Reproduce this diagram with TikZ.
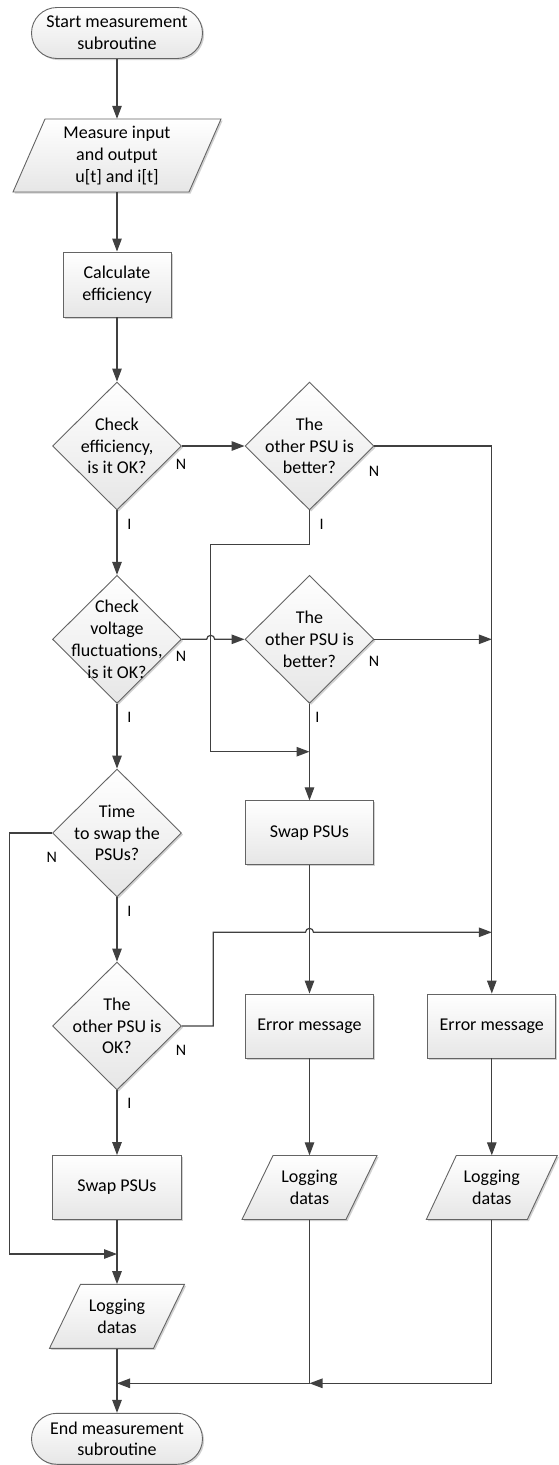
\documentclass[tikz,border=0pt]{standalone}
\usepackage{fontspec}
\setmainfont{Carlito}
\usetikzlibrary{shapes.geometric,arrows.meta,shadows,calc}
\definecolor{linecol}{RGB}{64,64,64}
\definecolor{edgecol}{RGB}{100,100,100}
\definecolor{shadecol}{RGB}{230,230,230}
\newcommand{\flowfont}{\fontsize{18}{21.7}\selectfont}
\newcommand{\tagfont}{\fontsize{16}{19}\selectfont}
\tikzset{
  shp/.style={draw=edgecol, line width=0.9pt, top color=white, bottom color=shadecol,
    drop shadow={shadow xshift=1.6pt, shadow yshift=-1.6pt, fill=black, opacity=0.18}},
  procbox/.style={shp, rectangle, inner sep=0pt, align=center, font=\flowfont},
  termbox/.style={procbox, rounded corners=25.5pt, minimum width=171pt, minimum height=51pt},
  decision/.style={shp, diamond, inner sep=0pt, minimum width=129pt, minimum height=128pt},
  dtext/.style={align=center, font=\flowfont, inner sep=0pt},
  iotext/.style={rectangle, inner sep=0pt, align=center, font=\flowfont},
  tag/.style={font=\tagfont, inner sep=0pt, text=black},
  conn/.style={draw=linecol, line width=1.2pt},
  arr/.style={conn, -{Triangle[length=13pt,width=9.5pt]}},
}
% input/output parallelogram: name, centre x, centre y, width, height, half slant, text
\newcommand{\iobox}[7]{%
  \path[shp] (#2-#4/2+#6,#3+#5/2) -- (#2+#4/2+#6,#3+#5/2) -- (#2+#4/2-#6,#3-#5/2) -- (#2-#4/2-#6,#3-#5/2) -- cycle;
  \node[iotext, minimum width=#4pt, minimum height=#5pt] (#1) at (#2,#3) {#7};}

\begin{document}
\begin{tikzpicture}[x=1pt, y=1pt]
\useasboundingbox (0,0) rectangle (558,-1465);

% ---- left column ----
\node[termbox] (start) at (117,-33) {Start measurement\\subroutine};
\iobox{io1}{117}{-155.5}{176}{73}{16}{Measure input\\and output\\u[t] and i[t]}
\node[procbox, minimum width=108pt, minimum height=65pt] (calc) at (117,-284.5) {Calculate\\efficiency};
\node[decision, label={[dtext]center:Check\\efficiency,\\is it OK?}] (d1) at (117,-446) {};
\node[decision, label={[dtext]center:Check\\voltage\\fluctuations,\\is it OK?}] (d3) at (117,-639.3) {};
\node[decision, label={[dtext]center:Time\\to swap the\\PSUs?}] (d5) at (117,-833) {};
\node[decision, label={[dtext]center:The\\other PSU is\\OK?}] (d6) at (117,-1026) {};
\node[procbox, minimum width=129pt, minimum height=64pt] (swapL) at (117,-1187.5) {Swap PSUs};
\iobox{logL}{117}{-1316.3}{104}{64}{15.5}{Logging\\datas}
\node[termbox] (endT) at (117,-1438.8) {End measurement\\subroutine};

% ---- middle column ----
\node[decision, label={[dtext]center:The\\other PSU is\\better?}] (d2) at (309.5,-446) {};
\node[decision, label={[dtext]center:The\\other PSU is\\better?}] (d4) at (309.5,-639.3) {};
\node[procbox, minimum width=128pt, minimum height=64pt] (swapR) at (309.5,-832.8) {Swap PSUs};
\node[procbox, minimum width=128pt, minimum height=64pt] (err1) at (309.5,-1026) {Error message};
\iobox{logM}{309.5}{-1187.5}{104}{64}{15.5}{Logging\\datas}

% ---- right column ----
\node[procbox, minimum width=128pt, minimum height=64pt] (err2) at (491.8,-1026) {Error message};
\iobox{logR}{491.8}{-1187.5}{101}{64}{15}{Logging\\datas}

% ---- routing points ----
\coordinate (bx) at (210.7,-544.3);
\coordinate (by) at (210.7,-751.7);
\coordinate (rb) at (213.3,-932.3);
\coordinate (lb) at (9.3,-1254);
\coordinate (mbR) at (309.5,-1383.3);
\coordinate (mbL) at (117,-1383.3);

% ---- connectors ----
\draw[arr] (start.south) -- (io1.north);
\draw[arr] (io1.south) -- (calc.north);
\draw[arr] (calc.south) -- (d1.north);
\draw[arr] (d1.east) -- (d2.west);
\draw[arr] (d1.south) -- (d3.north);
\draw[arr] (d2.east) -| (err2.north);
\draw[arr] (d2.south) |- (bx) -- (by) -- (by -| d4.south);
\draw[arr] (d3.east) -- ($(d3.east -| bx)+(-4pt,0)$) arc[start angle=180, end angle=0, radius=4pt] -- (d4.west);
\draw[arr] (d4.east) -- (d4.east -| err2.north);
\draw[arr] (d4.south) -- (swapR.north);
\draw[arr] (d3.south) -- (d5.north);
\draw[arr] (d5.west) -| (lb) -- (lb -| swapL.south);
\draw[arr] (d5.south) -- (d6.north);
\draw[arr] (d6.east) -| (rb) -- ($(rb -| swapR.south)+(-4pt,0)$) arc[start angle=180, end angle=0, radius=4pt] -- (rb -| err2.north);
\draw[arr] (d6.south) -- (swapL.north);
\draw[arr] (swapR.south) -- (err1.north);
\draw[arr] (swapL.south) -- (logL.north);
\draw[arr] (err1.south) -- (logM.north);
\draw[arr] (err2.south) -- (logR.north);
\draw[arr] (logR.south) |- (mbR);
\draw[arr] (logM.south) |- (mbL);
\draw[arr] (logL.south) -- (endT.north);

% ---- branch tags ----
\node[tag] (n1) at (181,-464.3) {N};
\node[tag] (i1) at (129.3,-524) {I};
\node[tag] (n2) at (374,-471.7) {N};
\node[tag] (i2) at (321.7,-524) {I};
\node[tag] (n3) at (181,-656.7) {N};
\node[tag] (i3) at (129.3,-717.3) {I};
\node[tag] (n4) at (374,-661.7) {N};
\node[tag] (i4) at (317.3,-717) {I};
\node[tag] (n5) at (51.7,-857.7) {N};
\node[tag] (i5) at (129.3,-911.7) {I};
\node[tag] (n6) at (181,-1050) {N};
\node[tag] (i6) at (129.3,-1103.3) {I};
\end{tikzpicture}
\end{document}
